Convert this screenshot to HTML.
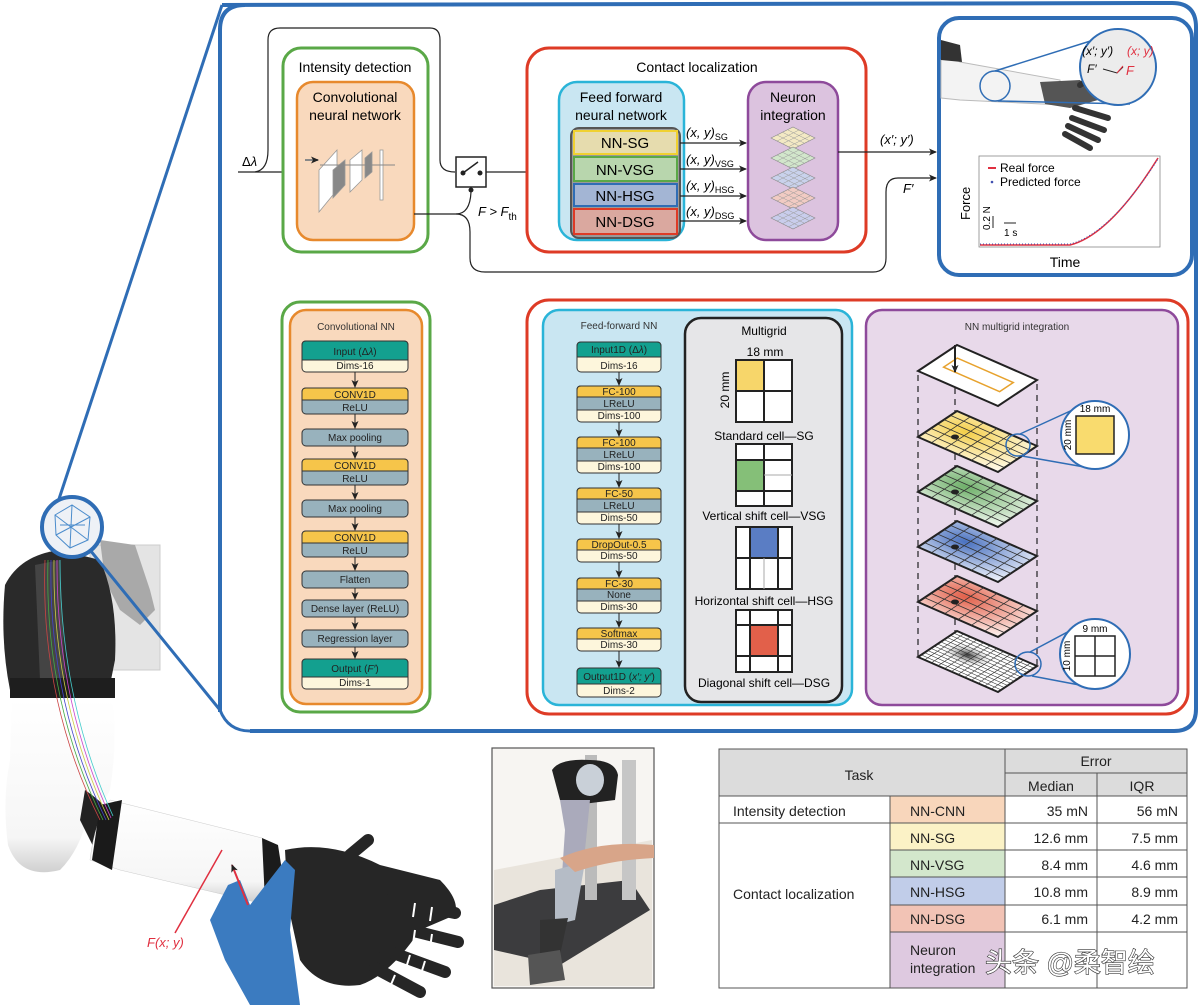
<!DOCTYPE html>
<html><head><meta charset="utf-8"><style>
html,body{margin:0;padding:0;background:#fff;}
svg{display:block;font-family:"Liberation Sans",Arial,sans-serif;}
</style></head><body>
<svg width="1200" height="1005" viewBox="0 0 1200 1005" xmlns="http://www.w3.org/2000/svg">
<defs>
<marker id="ar" markerWidth="8" markerHeight="8" refX="7" refY="4" orient="auto" markerUnits="userSpaceOnUse"><path d="M0,0.5 L8,4 L0,7.5 L2,4z" fill="#222"/></marker>
<radialGradient id="gy" cx="0.3" cy="0.6" r="0.9"><stop offset="0" stop-color="#f4cf4a"/><stop offset="1" stop-color="#fffbee"/></radialGradient>
<radialGradient id="gg" cx="0.3" cy="0.6" r="0.9"><stop offset="0" stop-color="#6fb06a"/><stop offset="1" stop-color="#f2f8f0"/></radialGradient>
<radialGradient id="gb" cx="0.3" cy="0.6" r="0.9"><stop offset="0" stop-color="#4a72c0"/><stop offset="1" stop-color="#f0f3fb"/></radialGradient>
<radialGradient id="gr" cx="0.3" cy="0.6" r="0.9"><stop offset="0" stop-color="#e2604a"/><stop offset="1" stop-color="#fdf1ee"/></radialGradient>
<radialGradient id="gk" cx="0.35" cy="0.55" r="0.3"><stop offset="0" stop-color="#333"/><stop offset="1" stop-color="#fff" stop-opacity="0"/></radialGradient>
<linearGradient id="arm" x1="0" y1="0" x2="0" y2="1"><stop offset="0" stop-color="#fff"/><stop offset="0.8" stop-color="#f6f6f6"/><stop offset="1" stop-color="#d0d0d0"/></linearGradient>
<pattern id="sg" width="4" height="4" patternUnits="userSpaceOnUse"><path d="M0,0H4M0,0V4" stroke="#999" stroke-width="0.5" fill="none"/></pattern>
</defs>

<!-- ===== Robot arm (left) ===== -->
<rect x="90" y="545" width="70" height="125" fill="#e4e4e4" stroke="#ccc"/>
<path d="M100,540 L135,545 L150,590 L155,610 L140,625 L120,610 L105,580z" fill="#a9a9a9"/>
<path d="M5,585 Q20,555 60,550 L100,560 Q118,600 115,660 L110,685 L10,690 Q0,640 5,585z" fill="#2a2a2a"/>
<path d="M35,565 L60,560 L65,680 L40,680z" fill="#444"/>
<rect x="10" y="678" width="105" height="20" fill="#1e1e1e"/>
<path d="M12,698 L112,698 Q118,740 110,790 Q100,810 95,800 L88,815 Q80,850 60,870 Q20,880 8,845 Q2,800 10,760z" fill="url(#arm)"/>
<path d="M85,790 Q100,800 110,812 L118,820 L95,850 L80,820z" fill="#222"/>
<path d="M110,800 L262,838 L282,872 L255,902 L120,870 L90,860 Q95,820 110,800z" fill="url(#arm)" stroke="#ccc" stroke-width="0.5"/>
<path d="M100,805 L122,800 L112,870 L92,860z" fill="#1a1a1a"/>
<path d="M262,838 L278,845 L285,890 L265,902z" fill="#1b1b1b"/>
<g stroke-width="0.8" fill="none">
<path d="M45,560 Q40,700 100,820" stroke="#c44"/><path d="M48,560 Q44,700 103,820" stroke="#4a4"/><path d="M51,560 Q48,700 106,820" stroke="#44c"/><path d="M54,560 Q52,700 109,820" stroke="#cc4"/><path d="M57,560 Q56,700 111,818" stroke="#c4c"/><path d="M60,560 Q60,700 113,816" stroke="#4cc"/>
</g>
<path d="M285,850 Q330,840 380,865 L440,880 Q460,900 455,915 L420,930 Q390,975 360,985 Q320,990 300,960 L288,905z" fill="#262626"/>
<g stroke="#262626" stroke-width="12" stroke-linecap="round"><line x1="350" y1="855" x2="368" y2="840"/><line x1="390" y1="900" x2="455" y2="913"/><line x1="390" y1="925" x2="458" y2="942"/><line x1="385" y1="950" x2="445" y2="972"/><line x1="375" y1="968" x2="420" y2="992"/></g>
<g stroke="#fff" stroke-width="2"><line x1="415" y1="903" x2="413" y2="917"/><line x1="432" y1="907" x2="430" y2="921"/><line x1="415" y1="930" x2="413" y2="944"/><line x1="432" y1="934" x2="430" y2="948"/><line x1="410" y1="955" x2="406" y2="968"/><line x1="425" y1="961" x2="421" y2="974"/><line x1="395" y1="975" x2="390" y2="987"/></g>
<path d="M210,920 L228,885 L240,880 L250,905 L285,860 L295,870 L290,930 L300,1005 L250,1005 L225,960z" fill="#3b7bc0"/>
<line x1="175" y1="933" x2="222" y2="850" stroke="#e03040" stroke-width="1.5"/>
<line x1="248" y1="905" x2="232" y2="865" stroke="#e03040" stroke-width="2" marker-end="url(#ar)"/>
<text x="147" y="947" font-size="13" fill="#e03040" font-style="italic">F(x; y)</text>

<path d="M58,502 L222,5" stroke="#2f6db5" stroke-width="3" fill="none"/>
<path d="M90,550 L220,710 Q228,731 250,731" stroke="#2f6db5" stroke-width="3" fill="none"/>
<circle cx="72" cy="527" r="30" fill="#eef1f6" stroke="#2f6db5" stroke-width="4"/>
<g stroke="#4b8ccc" stroke-width="1" fill="none"><polygon points="55,515 72,505 90,517 88,540 70,548 56,535"/><line x1="55" y1="515" x2="88" y2="540"/><line x1="72" y1="505" x2="70" y2="548"/><line x1="90" y1="517" x2="56" y2="535"/><line x1="60" y1="525" x2="85" y2="525"/></g>

<!-- ===== Big blue frame ===== -->
<path d="M222,5 L1172,3 Q1196,3 1196,27 L1196,709 Q1196,731 1174,731 L250,731" stroke="#2f6db5" stroke-width="4" fill="none"/>
<line x1="220" y1="28" x2="220" y2="712" stroke="#2f6db5" stroke-width="4"/>
<path d="M220,30 Q220,5 245,5" stroke="#2f6db5" stroke-width="4" fill="none"/>

<!-- ===== Top flow ===== -->
<text x="242" y="166" font-size="13">Δ<tspan font-style="italic">λ</tspan></text>
<line x1="238" y1="172" x2="295" y2="172" stroke="#222" stroke-width="1.2" marker-end="url(#ar)"/>
<path d="M255,172 Q268,170 268,150 L268,40 Q268,28 280,28 L430,28 Q440,28 440,40 L440,160 Q440,172 455,172" stroke="#222" stroke-width="1.2" fill="none"/>
<rect x="283" y="48" width="145" height="204" rx="18" fill="#fff" stroke="#5aa847" stroke-width="3"/>
<text x="355" y="72" font-size="14" text-anchor="middle">Intensity detection</text>
<rect x="297" y="82" width="117" height="158" rx="16" fill="#f9d9bd" stroke="#e7892d" stroke-width="2.5"/>
<text x="355" y="102" font-size="14" text-anchor="middle">Convolutional</text>
<text x="355" y="120" font-size="14" text-anchor="middle">neural network</text>
<g stroke="#999" fill="#fff" stroke-width="0.8"><polygon points="319,170 337,150 337,190 319,212"/><polygon points="333,170 345,160 345,185 333,198" fill="#888"/><polygon points="350,160 362,150 362,180 350,192"/><polygon points="365,158 372,152 372,172 365,178" fill="#888"/><rect x="380" y="150" width="3" height="50"/></g>
<line x1="305" y1="160" x2="318" y2="160" stroke="#888" stroke-width="2" marker-end="url(#ar)"/>
<line x1="320" y1="165" x2="395" y2="165" stroke="#888"/>
<rect x="456" y="157" width="30" height="30" fill="#fff" stroke="#222" stroke-width="1.5"/>
<circle cx="463" cy="173" r="2.5" fill="#222"/><circle cx="480" cy="173" r="2.5" fill="#222"/><line x1="463" y1="173" x2="478" y2="162" stroke="#222" stroke-width="1.5"/>
<line x1="486" y1="172" x2="556" y2="172" stroke="#222" stroke-width="1.2" marker-end="url(#ar)"/>
<circle cx="471" cy="190" r="2.5" fill="#222"/>
<path d="M414,214 L456,214 Q470,214 471,192" stroke="#222" stroke-width="1.2" fill="none"/>
<path d="M456,214 Q470,214 470,232 L470,258 Q470,272 485,272 L873,272 Q886,272 886,258 L886,192 Q886,178 898,178 L936,178" stroke="#222" stroke-width="1.2" fill="none" marker-end="url(#ar)"/>
<text x="478" y="216" font-size="13" font-style="italic">F &gt; F<tspan font-size="10" dy="4" font-style="normal">th</tspan></text>
<text x="903" y="193" font-size="13" font-style="italic">F′</text>

<rect x="527" y="48" width="339" height="204" rx="22" fill="#fff" stroke="#de3b26" stroke-width="3"/>
<text x="697" y="72" font-size="14" text-anchor="middle">Contact localization</text>
<rect x="559" y="82" width="125" height="158" rx="18" fill="#c9e6f2" stroke="#2ab4d8" stroke-width="2.5"/>
<text x="621" y="102" font-size="14" text-anchor="middle">Feed forward</text>
<text x="621" y="120" font-size="14" text-anchor="middle">neural network</text>
<rect x="571" y="128" width="109" height="110" rx="8" fill="#999" stroke="#555" stroke-width="2"/>
<rect x="574" y="131" width="103" height="23" fill="#e6dcae" stroke="#f0d130" stroke-width="2"/>
<rect x="574" y="157" width="103" height="24" fill="#b8d6ad" stroke="#5aa847" stroke-width="2"/>
<rect x="574" y="184" width="103" height="22" fill="#a3b5d4" stroke="#2f6db5" stroke-width="2"/>
<rect x="574" y="209" width="103" height="25" fill="#daa89f" stroke="#de3b26" stroke-width="2"/>
<g font-size="15" text-anchor="middle"><text x="625" y="148">NN-SG</text><text x="625" y="175">NN-VSG</text><text x="625" y="201">NN-HSG</text><text x="625" y="227">NN-DSG</text></g>
<g stroke="#222" stroke-width="1.2" marker-end="url(#ar)"><line x1="680" y1="143" x2="746" y2="143"/><line x1="680" y1="169" x2="746" y2="169"/><line x1="680" y1="196" x2="746" y2="196"/><line x1="680" y1="221" x2="746" y2="221"/></g>
<g font-size="13" font-style="italic"><text x="686" y="137">(x, y)<tspan font-size="9" dy="3" font-style="normal">SG</tspan></text><text x="686" y="164">(x, y)<tspan font-size="9" dy="3" font-style="normal">VSG</tspan></text><text x="686" y="190">(x, y)<tspan font-size="9" dy="3" font-style="normal">HSG</tspan></text><text x="686" y="216">(x, y)<tspan font-size="9" dy="3" font-style="normal">DSG</tspan></text></g>
<rect x="748" y="82" width="90" height="158" rx="18" fill="#dcc3df" stroke="#8e4a9b" stroke-width="2.5"/>
<text x="793" y="102" font-size="14" text-anchor="middle">Neuron</text>
<text x="793" y="120" font-size="14" text-anchor="middle">integration</text>
<g stroke="#888" stroke-width="0.6"><polygon points="771,138 793,127 815,138 793,149" fill="#f3e9c4"/><polygon points="771,158 793,147 815,158 793,169" fill="#d2e6cb"/><polygon points="771,178 793,167 815,178 793,189" fill="#c9d2ec"/><polygon points="771,198 793,187 815,198 793,209" fill="#f1cbc3"/><polygon points="771,218 793,207 815,218 793,229" fill="#c9cdec"/></g>
<g stroke="#999" stroke-width="0.5" fill="none">
<path d="M777,135L799,146M782,132L804,143M788,130L810,141M777,141L799,130M782,144L804,133M788,147L810,136"/>
<path d="M777,155L799,166M782,152L804,163M788,150L810,161M777,161L799,150M782,164L804,153M788,167L810,156"/>
<path d="M777,175L799,186M782,172L804,183M788,170L810,181M777,181L799,170M782,184L804,173M788,187L810,176"/>
<path d="M777,195L799,206M782,192L804,203M788,190L810,201M777,201L799,190M782,204L804,193M788,207L810,196"/>
<path d="M777,215L799,226M782,212L804,223M788,210L810,221M777,221L799,210M782,224L804,213M788,227L810,216"/>
</g>
<line x1="838" y1="152" x2="936" y2="152" stroke="#222" stroke-width="1.2" marker-end="url(#ar)"/>
<text x="880" y="144" font-size="13" font-style="italic">(x′; y′)</text>

<!-- top-right panel -->
<rect x="939" y="18" width="253" height="257" rx="20" fill="#fff" stroke="#2f6db5" stroke-width="4"/>
<path d="M941,60 Q950,55 960,62 L1060,80 L1062,105 L960,100 L941,98z" fill="#f3f3f3" stroke="#bbb"/>
<path d="M941,40 L960,45 L962,62 L941,60z" fill="#333"/>
<path d="M1040,82 L1080,80 L1098,100 L1070,108 L1045,104z" fill="#555"/>
<g stroke="#333" stroke-width="6" stroke-linecap="round"><line x1="1075" y1="108" x2="1108" y2="118"/><line x1="1072" y1="118" x2="1104" y2="130"/><line x1="1068" y1="126" x2="1098" y2="140"/><line x1="1065" y1="134" x2="1090" y2="148"/><line x1="1080" y1="85" x2="1098" y2="74"/></g>
<circle cx="995" cy="86" r="15" fill="none" stroke="#2f6db5" stroke-width="1.5"/>
<line x1="995" y1="71" x2="1100" y2="38" stroke="#2f6db5" stroke-width="1.5"/><line x1="998" y1="101" x2="1130" y2="104" stroke="#2f6db5" stroke-width="1.5"/>
<circle cx="1118" cy="67" r="38" fill="#ececec" stroke="#2f6db5" stroke-width="2"/>
<text x="1082" y="55" font-size="12" font-style="italic">(x′; y′)</text><text x="1127" y="55" font-size="12" font-style="italic" fill="#e03040">(x; y)</text>
<text x="1087" y="73" font-size="12" font-style="italic">F′</text><path d="M1103,69 L1117,73 L1123,67" stroke="#222" fill="none"/><path d="M1117,73 L1123,66" stroke="#e03040"/>
<text x="1126" y="75" font-size="13" font-style="italic" fill="#e03040">F</text>
<rect x="979" y="156" width="181" height="91" fill="#fff" stroke="#888" stroke-width="0.8"/>
<path d="M980,245 L1070,245 Q1110,235 1158,158" stroke="#e03040" stroke-width="1.5" fill="none"/>
<path d="M980,244 L1070,244 Q1110,234 1158,159" stroke="#4050b0" stroke-width="1" stroke-dasharray="1,2" fill="none"/>
<line x1="988" y1="168" x2="996" y2="168" stroke="#e03040" stroke-width="2"/><text x="1000" y="172" font-size="12">Real force</text>
<circle cx="992" cy="182" r="1.3" fill="#4050b0"/><text x="1000" y="186" font-size="12">Predicted force</text>
<text x="970" y="220" font-size="13" transform="rotate(-90 970 220)">Force</text>
<text x="990" y="230" font-size="10" transform="rotate(-90 990 230)">0.2 N</text><line x1="993" y1="216" x2="993" y2="228" stroke="#222"/>
<line x1="1004" y1="223" x2="1016" y2="223" stroke="#222"/><text x="1004" y="236" font-size="10">1 s</text>
<text x="1065" y="267" font-size="14" text-anchor="middle">Time</text>

<!-- ===== Lower left: CNN ===== -->
<rect x="282" y="302" width="148" height="410" rx="18" fill="#fff" stroke="#5aa847" stroke-width="3"/>
<rect x="290" y="310" width="132" height="394" rx="16" fill="#f9d9bd" stroke="#e7892d" stroke-width="2.5"/>
<text x="356" y="330" font-size="10" text-anchor="middle" fill="#333">Convolutional NN</text>
<g stroke="#333" stroke-width="1" font-size="10">
<rect x="302" y="341" width="106" height="31" rx="4" fill="#fdf6dc"/><path d="M302,360 L302,345 Q302,341 306,341 L404,341 Q408,341 408,345 L408,360z" fill="#13a08f"/>
<rect x="302" y="388" width="106" height="26" rx="4" fill="#98b2bd"/><path d="M302,400 L302,392 Q302,388 306,388 L404,388 Q408,388 408,392 L408,400z" fill="#f6c54a"/>
<rect x="302" y="429" width="106" height="17" rx="4" fill="#98b2bd"/>
<rect x="302" y="459" width="106" height="26" rx="4" fill="#98b2bd"/><path d="M302,471 L302,463 Q302,459 306,459 L404,459 Q408,459 408,463 L408,471z" fill="#f6c54a"/>
<rect x="302" y="500" width="106" height="17" rx="4" fill="#98b2bd"/>
<rect x="302" y="531" width="106" height="26" rx="4" fill="#98b2bd"/><path d="M302,543 L302,535 Q302,531 306,531 L404,531 Q408,531 408,535 L408,543z" fill="#f6c54a"/>
<rect x="302" y="571" width="106" height="17" rx="4" fill="#98b2bd"/>
<rect x="302" y="600" width="106" height="17" rx="4" fill="#98b2bd"/>
<rect x="302" y="630" width="106" height="17" rx="4" fill="#98b2bd"/>
<rect x="302" y="659" width="106" height="30" rx="4" fill="#fdf6dc"/><path d="M302,677 L302,663 Q302,659 306,659 L404,659 Q408,659 408,663 L408,677z" fill="#13a08f"/>
</g>
<g font-size="10" text-anchor="middle" fill="#222">
<text x="355" y="355">Input (Δ<tspan font-style="italic">λ</tspan>)</text><text x="355" y="369">Dims-16</text>
<text x="355" y="398">CONV1D</text><text x="355" y="411">ReLU</text>
<text x="355" y="441">Max pooling</text>
<text x="355" y="469">CONV1D</text><text x="355" y="482">ReLU</text>
<text x="355" y="512">Max pooling</text>
<text x="355" y="541">CONV1D</text><text x="355" y="554">ReLU</text>
<text x="355" y="583">Flatten</text>
<text x="355" y="612">Dense layer (ReLU)</text>
<text x="355" y="642">Regression layer</text>
<text x="355" y="672">Output (<tspan font-style="italic">F′</tspan>)</text><text x="355" y="686">Dims-1</text>
</g>
<g stroke="#222" stroke-width="1" marker-end="url(#ar)"><line x1="355" y1="372" x2="355" y2="387"/><line x1="355" y1="414" x2="355" y2="428"/><line x1="355" y1="446" x2="355" y2="458"/><line x1="355" y1="485" x2="355" y2="499"/><line x1="355" y1="517" x2="355" y2="530"/><line x1="355" y1="557" x2="355" y2="570"/><line x1="355" y1="588" x2="355" y2="599"/><line x1="355" y1="617" x2="355" y2="629"/><line x1="355" y1="647" x2="355" y2="658"/></g>

<!-- ===== Lower right red box ===== -->
<rect x="527" y="300" width="661" height="414" rx="22" fill="#fff" stroke="#de3b26" stroke-width="3"/>
<rect x="543" y="310" width="309" height="395" rx="16" fill="#c9e6f2" stroke="#2ab4d8" stroke-width="2.5"/>
<text x="619" y="329" font-size="10" text-anchor="middle" fill="#333">Feed-forward NN</text>
<g stroke="#333" stroke-width="1">
<rect x="577" y="342" width="84" height="30" rx="4" fill="#fdf6dc"/><path d="M577,357 L577,346 Q577,342 581,342 L657,342 Q661,342 661,346 L661,357z" fill="#13a08f"/>
<rect x="577" y="386" width="84" height="36" rx="4" fill="#fdf6dc"/><path d="M577,410 L577,390 Q577,386 581,386 L657,386 Q661,386 661,390 L661,410z" fill="#98b2bd"/><path d="M577,397 L577,390 Q577,386 581,386 L657,386 Q661,386 661,390 L661,397z" fill="#f6c54a"/>
<rect x="577" y="437" width="84" height="36" rx="4" fill="#fdf6dc"/><path d="M577,461 L577,441 Q577,437 581,437 L657,437 Q661,437 661,441 L661,461z" fill="#98b2bd"/><path d="M577,448 L577,441 Q577,437 581,437 L657,437 Q661,437 661,441 L661,448z" fill="#f6c54a"/>
<rect x="577" y="488" width="84" height="36" rx="4" fill="#fdf6dc"/><path d="M577,512 L577,492 Q577,488 581,488 L657,488 Q661,488 661,492 L661,512z" fill="#98b2bd"/><path d="M577,499 L577,492 Q577,488 581,488 L657,488 Q661,488 661,492 L661,499z" fill="#f6c54a"/>
<rect x="577" y="539" width="84" height="23" rx="4" fill="#fdf6dc"/><path d="M577,550 L577,543 Q577,539 581,539 L657,539 Q661,539 661,543 L661,550z" fill="#f6c54a"/>
<rect x="577" y="578" width="84" height="35" rx="4" fill="#fdf6dc"/><path d="M577,601 L577,582 Q577,578 581,578 L657,578 Q661,578 661,582 L661,601z" fill="#98b2bd"/><path d="M577,589 L577,582 Q577,578 581,578 L657,578 Q661,578 661,582 L661,589z" fill="#f6c54a"/>
<rect x="577" y="628" width="84" height="23" rx="4" fill="#fdf6dc"/><path d="M577,639 L577,632 Q577,628 581,628 L657,628 Q661,628 661,632 L661,639z" fill="#f6c54a"/>
<rect x="577" y="668" width="84" height="29" rx="4" fill="#fdf6dc"/><path d="M577,684 L577,672 Q577,668 581,668 L657,668 Q661,668 661,672 L661,684z" fill="#13a08f"/>
</g>
<g font-size="10" text-anchor="middle" fill="#222">
<text x="619" y="353">Input1D (Δ<tspan font-style="italic">λ</tspan>)</text><text x="619" y="369">Dims-16</text>
<text x="619" y="395">FC-100</text><text x="619" y="407">LReLU</text><text x="619" y="419">Dims-100</text>
<text x="619" y="446">FC-100</text><text x="619" y="458">LReLU</text><text x="619" y="470">Dims-100</text>
<text x="619" y="497">FC-50</text><text x="619" y="509">LReLU</text><text x="619" y="521">Dims-50</text>
<text x="619" y="548">DropOut-0.5</text><text x="619" y="559">Dims-50</text>
<text x="619" y="587">FC-30</text><text x="619" y="598">None</text><text x="619" y="610">Dims-30</text>
<text x="619" y="637">Softmax</text><text x="619" y="648">Dims-30</text>
<text x="619" y="680">Output1D (<tspan font-style="italic">x′; y′</tspan>)</text><text x="619" y="694">Dims-2</text>
</g>
<g stroke="#222" stroke-width="1" marker-end="url(#ar)"><line x1="619" y1="372" x2="619" y2="385"/><line x1="619" y1="422" x2="619" y2="436"/><line x1="619" y1="473" x2="619" y2="487"/><line x1="619" y1="524" x2="619" y2="538"/><line x1="619" y1="562" x2="619" y2="577"/><line x1="619" y1="613" x2="619" y2="627"/><line x1="619" y1="651" x2="619" y2="667"/></g>

<!-- multigrid -->
<rect x="685" y="318" width="157" height="384" rx="16" fill="#e6e6e8" stroke="#222" stroke-width="2.5"/>
<text x="764" y="335" font-size="12" text-anchor="middle">Multigrid</text>
<text x="765" y="356" font-size="12" text-anchor="middle">18 mm</text>
<text x="729" y="390" font-size="12" text-anchor="middle" transform="rotate(-90 729 390)">20 mm</text>
<g stroke="#222" stroke-width="2" fill="#fff">
<rect x="736" y="360" width="56" height="62"/><rect x="736" y="360" width="28" height="31" fill="#f7d66a"/><line x1="764" y1="360" x2="764" y2="422"/><line x1="736" y1="391" x2="792" y2="391"/>
</g>
<text x="764" y="440" font-size="12" text-anchor="middle">Standard cell—SG</text>
<g stroke="#222" stroke-width="2" fill="#fff">
<rect x="736" y="444" width="56" height="62"/><rect x="736" y="460" width="28" height="31" fill="#85bf78"/>
<line x1="764" y1="444" x2="764" y2="506"/><line x1="736" y1="460" x2="792" y2="460"/><line x1="736" y1="491" x2="792" y2="491"/>
<line x1="764" y1="475" x2="792" y2="475" stroke="#aaa" stroke-width="1"/></g>
<text x="764" y="520" font-size="12" text-anchor="middle">Vertical shift cell—VSG</text>
<g stroke="#222" stroke-width="2" fill="#fff">
<rect x="736" y="527" width="56" height="62"/><rect x="750" y="527" width="28" height="31" fill="#5a7dc4"/>
<line x1="750" y1="527" x2="750" y2="589"/><line x1="778" y1="527" x2="778" y2="589"/><line x1="736" y1="558" x2="792" y2="558"/>
<line x1="764" y1="558" x2="764" y2="589" stroke="#aaa" stroke-width="1"/></g>
<text x="764" y="605" font-size="12" text-anchor="middle">Horizontal shift cell—HSG</text>
<g stroke="#222" stroke-width="2" fill="#fff">
<rect x="736" y="610" width="56" height="62"/><rect x="750" y="625" width="28" height="31" fill="#e2604a"/>
<line x1="750" y1="610" x2="750" y2="672"/><line x1="778" y1="610" x2="778" y2="672"/><line x1="736" y1="625" x2="792" y2="625"/><line x1="736" y1="656" x2="792" y2="656"/>
</g>
<text x="764" y="687" font-size="12" text-anchor="middle">Diagonal shift cell—DSG</text>

<!-- NN multigrid integration -->
<rect x="866" y="310" width="312" height="395" rx="16" fill="#e8d9ea" stroke="#8e4a9b" stroke-width="2.5"/>
<text x="1017" y="330" font-size="10" text-anchor="middle" fill="#333">NN multigrid integration</text>
<g stroke="#222" stroke-width="1.2" stroke-dasharray="6,5"><line x1="918" y1="375" x2="918" y2="660"/><line x1="955" y1="355" x2="955" y2="640"/><line x1="1037" y1="384" x2="1037" y2="670"/></g>
<g transform="matrix(80 35 39 -26 918 371)"><rect x="0" y="0" width="1" height="1" fill="#fff" stroke="#222" stroke-width="2" vector-effect="non-scaling-stroke"/>
<path d="M0.15,0.35 L0.85,0.35 L0.85,0.7 L0.15,0.7z" fill="none" stroke="#e7a22d" stroke-width="1.5" vector-effect="non-scaling-stroke"/></g>
<line x1="955" y1="345" x2="955" y2="372" stroke="#222" stroke-width="2" marker-end="url(#ar)"/>
<g transform="matrix(80 35 39 -26 918 437)"><rect width="1" height="1" fill="url(#gy)" stroke="#222" stroke-width="2" vector-effect="non-scaling-stroke"/><path d="M0.167,0V1M0.333,0V1M0.5,0V1M0.667,0V1M0.833,0V1M0,0.167H1M0,0.333H1M0,0.5H1M0,0.667H1M0,0.833H1" stroke="#333" stroke-width="0.8" vector-effect="non-scaling-stroke"/></g>
<g transform="matrix(80 35 39 -26 918 492)"><rect width="1" height="1" fill="url(#gg)" stroke="#222" stroke-width="2" vector-effect="non-scaling-stroke"/><path d="M0.167,0V1M0.333,0V1M0.5,0V1M0.667,0V1M0.833,0V1M0,0.167H1M0,0.333H1M0,0.5H1M0,0.667H1M0,0.833H1" stroke="#333" stroke-width="0.8" vector-effect="non-scaling-stroke"/></g>
<g transform="matrix(80 35 39 -26 918 547)"><rect width="1" height="1" fill="url(#gb)" stroke="#222" stroke-width="2" vector-effect="non-scaling-stroke"/><path d="M0.167,0V1M0.333,0V1M0.5,0V1M0.667,0V1M0.833,0V1M0,0.167H1M0,0.333H1M0,0.5H1M0,0.667H1M0,0.833H1" stroke="#333" stroke-width="0.8" vector-effect="non-scaling-stroke"/></g>
<g transform="matrix(80 35 39 -26 918 602)"><rect width="1" height="1" fill="url(#gr)" stroke="#222" stroke-width="2" vector-effect="non-scaling-stroke"/><path d="M0.167,0V1M0.333,0V1M0.5,0V1M0.667,0V1M0.833,0V1M0,0.167H1M0,0.333H1M0,0.5H1M0,0.667H1M0,0.833H1" stroke="#333" stroke-width="0.8" vector-effect="non-scaling-stroke"/></g>
<g transform="matrix(80 35 39 -26 918 657)"><rect width="1" height="1" fill="#fff" stroke="#222" stroke-width="2" vector-effect="non-scaling-stroke"/><rect width="1" height="1" fill="url(#gk)"/><path d="M0.083,0V1M0.167,0V1M0.25,0V1M0.333,0V1M0.417,0V1M0.5,0V1M0.583,0V1M0.667,0V1M0.75,0V1M0.833,0V1M0.917,0V1M0,0.083H1M0,0.167H1M0,0.25H1M0,0.333H1M0,0.417H1M0,0.5H1M0,0.583H1M0,0.667H1M0,0.75H1M0,0.833H1M0,0.917H1" stroke="#333" stroke-width="0.6" vector-effect="non-scaling-stroke"/></g>
<g fill="#222"><ellipse cx="955" cy="437" rx="4" ry="2.5"/><ellipse cx="955" cy="492" rx="4" ry="2.5"/><ellipse cx="955" cy="547" rx="4" ry="2.5"/><ellipse cx="955" cy="602" rx="4" ry="2.5"/></g>
<g stroke="#2f6db5" stroke-width="1.5" fill="none"><ellipse cx="1018" cy="445" rx="12" ry="11"/><line x1="1020" y1="434" x2="1090" y2="402"/><line x1="1022" y1="456" x2="1090" y2="468"/>
<ellipse cx="1028" cy="664" rx="13" ry="12"/><line x1="1030" y1="652" x2="1090" y2="620"/><line x1="1032" y1="676" x2="1090" y2="687"/></g>
<circle cx="1095" cy="435" r="34" fill="#fff" stroke="#2f6db5" stroke-width="2"/>
<rect x="1076" y="416" width="38" height="38" fill="#f9db6e" stroke="#222" stroke-width="1.5"/>
<text x="1095" y="412" font-size="10" text-anchor="middle">18 mm</text>
<text x="1071" y="435" font-size="10" text-anchor="middle" transform="rotate(-90 1071 435)">20 mm</text>
<circle cx="1095" cy="654" r="35" fill="#fff" stroke="#2f6db5" stroke-width="2"/>
<g stroke="#222" stroke-width="1.5" fill="none"><rect x="1075" y="636" width="40" height="40"/><line x1="1095" y1="636" x2="1095" y2="676"/><line x1="1075" y1="656" x2="1115" y2="656"/></g>
<text x="1095" y="632" font-size="10" text-anchor="middle">9 mm</text>
<text x="1070" y="656" font-size="10" text-anchor="middle" transform="rotate(-90 1070 656)">10 mm</text>

<!-- ===== Photo ===== -->
<rect x="492" y="748" width="162" height="240" fill="#f7f5f2" stroke="#555" stroke-width="1.2"/>
<path d="M494,870 L652,840 L652,986 L494,986z" fill="#e9e4dc"/>
<path d="M494,905 L540,890 L630,880 L650,910 L560,965 L494,950z" fill="#3c3c3e"/>
<rect x="585" y="755" width="12" height="145" fill="#bbb"/><rect x="622" y="760" width="14" height="140" fill="#c6c6c6"/>
<path d="M552,770 Q560,758 590,760 Q615,760 618,775 L615,800 L575,805 L560,800z" fill="#222"/>
<ellipse cx="590" cy="780" rx="14" ry="16" fill="#c9d0d8"/>
<path d="M560,800 L590,800 L585,850 L578,880 L562,875 L565,830z" fill="#aab"/>
<path d="M555,870 L585,862 L575,920 L555,925z" fill="#b5bcc6"/>
<path d="M540,920 L568,918 L560,955 L540,960z" fill="#333"/>
<path d="M528,955 L560,950 L565,980 L530,985z" fill="#555"/>
<path d="M560,858 Q600,840 654,845 L654,858 Q610,860 575,872z" fill="#d8a589"/>

<!-- ===== Table ===== -->
<g font-size="14" fill="#222">
<rect x="719" y="749" width="468" height="47" fill="#dcdcdc"/>
<rect x="890" y="796" width="115" height="27" fill="#f8d6bb"/>
<rect x="890" y="823" width="115" height="27" fill="#fbf2c6"/>
<rect x="890" y="850" width="115" height="27" fill="#d3e7cc"/>
<rect x="890" y="877" width="115" height="28" fill="#c1cde9"/>
<rect x="890" y="905" width="115" height="27" fill="#f2c3b5"/>
<rect x="890" y="932" width="115" height="56" fill="#dec9e0"/>
<g stroke="#555" stroke-width="1" fill="none">
<rect x="719" y="749" width="468" height="239"/>
<line x1="1005" y1="749" x2="1005" y2="988"/><line x1="1097" y1="773" x2="1097" y2="988"/><line x1="890" y1="796" x2="890" y2="988"/>
<line x1="1005" y1="773" x2="1187" y2="773"/><line x1="719" y1="796" x2="1187" y2="796"/><line x1="719" y1="823" x2="1187" y2="823"/>
<line x1="890" y1="850" x2="1187" y2="850"/><line x1="890" y1="877" x2="1187" y2="877"/><line x1="890" y1="905" x2="1187" y2="905"/><line x1="890" y1="932" x2="1187" y2="932"/>
</g>
<text x="859" y="780" text-anchor="middle">Task</text>
<text x="1096" y="766" text-anchor="middle">Error</text>
<text x="1051" y="791" text-anchor="middle">Median</text><text x="1142" y="791" text-anchor="middle">IQR</text>
<text x="733" y="816">Intensity detection</text>
<text x="733" y="899">Contact localization</text>
<text x="910" y="816">NN-CNN</text><text x="910" y="843">NN-SG</text><text x="910" y="870">NN-VSG</text><text x="910" y="897">NN-HSG</text><text x="910" y="924">NN-DSG</text>
<text x="910" y="955">Neuron</text><text x="910" y="973">integration</text>
<g text-anchor="end"><text x="1088" y="816">35 mN</text><text x="1088" y="843">12.6 mm</text><text x="1088" y="870">8.4 mm</text><text x="1088" y="897">10.8 mm</text><text x="1088" y="924">6.1 mm</text>
<text x="1178" y="816">56 mN</text><text x="1178" y="843">7.5 mm</text><text x="1178" y="870">4.6  mm</text><text x="1178" y="897">8.9 mm</text><text x="1178" y="924">4.2 mm</text></g>
</g>
<text x="985" y="972" font-size="27" font-family="'Liberation Sans','Noto Sans CJK SC',sans-serif" fill="#fff" stroke="#333" stroke-width="1.2" paint-order="stroke">头条 @柔智绘</text>
</svg>
</body></html>
